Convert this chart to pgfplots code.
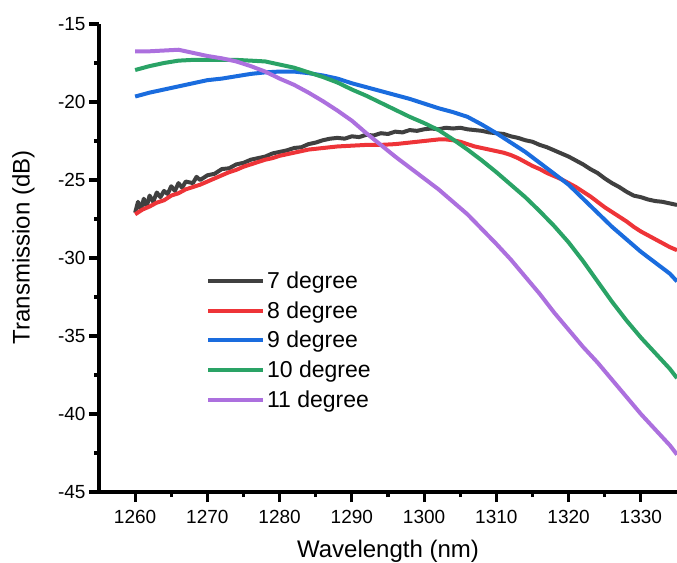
\documentclass[border=0pt]{standalone}
\usepackage{pgfplots}
\pgfplotsset{compat=1.18}
\usepackage{fontspec}
\setmainfont{Liberation Sans}
\definecolor{c7}{RGB}{64,64,64}
\definecolor{c8}{RGB}{238,52,56}
\definecolor{c9}{RGB}{26,108,222}
\definecolor{c10}{RGB}{42,163,102}
\definecolor{c11}{RGB}{172,112,222}
\begin{document}
\begin{tikzpicture}
\begin{axis}[name=ax, at={(0,0)}, anchor=south west,
 scale only axis, width=578pt, height=468pt,
 xmin=1255, xmax=1335, ymin=-45, ymax=-15,
 axis x line=bottom, axis y line=left,
 axis line style={-, line width=3.5pt, black},
 every outer x axis line/.append style={-, line width=3.5pt, black},
 every outer y axis line/.append style={-, line width=3.5pt, black},
 xtick={1260,1270,...,1330}, ytick={-45,-40,...,-15},
 minor x tick num=1, minor y tick num=1,
 tick align=outside, major tick length=10pt, minor tick length=5pt,
 tick style={black, line width=3.2pt},
 major tick style={black, line width=3.2pt},
 minor tick style={black, line width=3.2pt},
 tick label style={font=\fontsize{19}{22}\selectfont},
 xticklabel style={yshift=-5pt},
 /pgf/number format/assume math mode=true, /pgf/number format/1000 sep={},
 xlabel={Wavelength (nm)}, ylabel={Transmission (dB)},
 label style={font=\fontsize{24}{28}\selectfont},
 xlabel style={at={(axis description cs:0.5,-0.095)}, anchor=north},
 ylabel style={at={(axis description cs:-0.1055,0.523)}, anchor=south},
 legend style={draw=none, fill=none, at={(axis cs:1269.8,-30.75)}, anchor=north west,
   font=\fontsize{23}{27}\selectfont, row sep=7.5pt, inner sep=0pt},
 legend cell align=left,
 legend image code/.code={\draw[#1, line width=4pt] (0pt,0pt) -- (55pt,0pt);},
 every axis plot/.append style={line width=4pt, line join=round},
]
\addplot[c7] coordinates {
(1260,-27.1)(1260.4,-26.4)(1260.8,-26.9)(1261.2,-26.2)(1261.6,-26.7)(1262,-26.0)(1262.5,-26.4)(1263,-25.8)(1263.5,-26.1)(1264,-25.7)(1264.5,-25.9)(1265,-25.4)(1265.5,-25.7)(1266,-25.2)(1266.5,-25.5)(1267,-25.1)(1268,-25.2)(1268.5,-24.8)(1269,-25.0)(1270,-24.7)(1271,-24.6)(1272,-24.3)(1273,-24.25)(1274,-24.0)(1275,-23.9)(1276,-23.7)(1277,-23.6)(1278,-23.5)(1279,-23.3)(1280,-23.2)(1281,-23.1)(1282,-22.95)(1283,-22.9)(1284,-22.7)(1285,-22.6)(1286,-22.45)(1287,-22.35)(1288,-22.3)(1289,-22.35)(1290,-22.2)(1291,-22.25)(1292,-22.1)(1293,-22.15)(1294,-22.0)(1295,-22.05)(1296,-21.9)(1297,-21.95)(1298,-21.8)(1299,-21.85)(1300,-21.75)(1301,-21.7)(1302,-21.75)(1303,-21.65)(1304,-21.7)(1305,-21.65)(1306,-21.75)(1307,-21.8)(1308,-21.85)(1309,-21.95)(1310,-22.0)(1311,-22.05)(1312,-22.2)(1313,-22.3)(1314,-22.45)(1315,-22.55)(1316,-22.75)(1317,-22.9)(1318,-23.1)(1319,-23.3)(1320,-23.5)(1321,-23.75)(1322,-24.0)(1323,-24.3)(1324,-24.55)(1325,-24.9)(1326,-25.2)(1327,-25.45)(1328,-25.75)(1329,-26.0)(1330,-26.1)(1331,-26.25)(1332,-26.35)(1333,-26.4)(1334,-26.5)(1335,-26.6)};
\addlegendentry{7 degree}
\addplot[c8] coordinates {
(1260,-27.2)(1261,-26.9)(1262,-26.7)(1263,-26.45)(1264,-26.3)(1265,-26.0)(1266,-25.85)(1267,-25.6)(1268,-25.45)(1269,-25.3)(1270,-25.1)(1271,-24.9)(1272,-24.7)(1273,-24.5)(1274,-24.35)(1275,-24.15)(1276,-24.0)(1277,-23.85)(1278,-23.7)(1279,-23.6)(1280,-23.45)(1281,-23.35)(1282,-23.25)(1283,-23.15)(1284,-23.05)(1285,-23.0)(1286,-22.95)(1287,-22.9)(1288,-22.85)(1290,-22.8)(1292,-22.75)(1294,-22.75)(1296,-22.7)(1298,-22.6)(1300,-22.5)(1302,-22.4)(1303,-22.4)(1304,-22.45)(1305,-22.55)(1306,-22.7)(1307,-22.85)(1308,-22.95)(1309,-23.05)(1310,-23.15)(1311,-23.25)(1312,-23.4)(1313,-23.6)(1314,-23.85)(1315,-24.1)(1316,-24.3)(1317,-24.55)(1318,-24.75)(1319,-24.95)(1320,-25.2)(1321,-25.45)(1322,-25.75)(1323,-26.05)(1324,-26.4)(1325,-26.75)(1326,-27.05)(1327,-27.35)(1328,-27.65)(1329,-28.0)(1330,-28.3)(1331,-28.55)(1332,-28.8)(1333,-29.05)(1334,-29.3)(1335,-29.5)};
\addlegendentry{8 degree}
\addplot[c9] coordinates {
(1260,-19.65)(1262,-19.4)(1264,-19.2)(1266,-19.0)(1268,-18.8)(1270,-18.6)(1272,-18.5)(1274,-18.35)(1276,-18.2)(1278,-18.1)(1280,-18.05)(1282,-18.05)(1284,-18.15)(1286,-18.3)(1288,-18.5)(1290,-18.8)(1292,-19.05)(1294,-19.3)(1296,-19.55)(1298,-19.8)(1300,-20.1)(1302,-20.4)(1304,-20.65)(1306,-20.95)(1308,-21.45)(1310,-22.0)(1312,-22.6)(1314,-23.2)(1316,-23.9)(1318,-24.6)(1320,-25.3)(1322,-26.2)(1324,-27.1)(1326,-28.0)(1328,-28.8)(1330,-29.6)(1332,-30.3)(1334,-31.0)(1335,-31.5)};
\addlegendentry{9 degree}
\addplot[c10] coordinates {
(1260,-17.95)(1262,-17.7)(1264,-17.5)(1266,-17.35)(1268,-17.3)(1270,-17.3)(1272,-17.3)(1274,-17.3)(1276,-17.35)(1278,-17.4)(1280,-17.6)(1282,-17.8)(1284,-18.1)(1286,-18.4)(1288,-18.75)(1290,-19.2)(1292,-19.6)(1294,-20.05)(1296,-20.5)(1298,-20.95)(1300,-21.35)(1302,-21.8)(1304,-22.4)(1306,-23.05)(1308,-23.75)(1310,-24.5)(1312,-25.3)(1314,-26.1)(1316,-27.0)(1318,-27.95)(1320,-29.0)(1322,-30.2)(1324,-31.5)(1326,-32.8)(1328,-34.0)(1330,-35.1)(1332,-36.1)(1334,-37.1)(1335,-37.7)};
\addlegendentry{10 degree}
\addplot[c11] coordinates {
(1260,-16.75)(1262,-16.75)(1264,-16.7)(1266,-16.65)(1268,-16.85)(1270,-17.05)(1272,-17.2)(1274,-17.4)(1276,-17.7)(1278,-18.05)(1280,-18.5)(1282,-18.9)(1284,-19.4)(1286,-19.95)(1288,-20.55)(1290,-21.2)(1292,-22.0)(1294,-22.75)(1296,-23.5)(1298,-24.2)(1300,-24.9)(1302,-25.6)(1304,-26.4)(1306,-27.2)(1308,-28.15)(1310,-29.1)(1312,-30.1)(1314,-31.2)(1316,-32.3)(1318,-33.5)(1320,-34.6)(1322,-35.7)(1324,-36.7)(1326,-37.8)(1328,-38.9)(1330,-40.0)(1332,-41.0)(1334,-42.0)(1335,-42.6)};
\addlegendentry{11 degree}
\end{axis}
\pgfresetboundingbox
\useasboundingbox ([xshift=-99pt,yshift=-70pt]ax.south west) rectangle ([yshift=24pt]ax.north east);
\end{tikzpicture}
\end{document}
